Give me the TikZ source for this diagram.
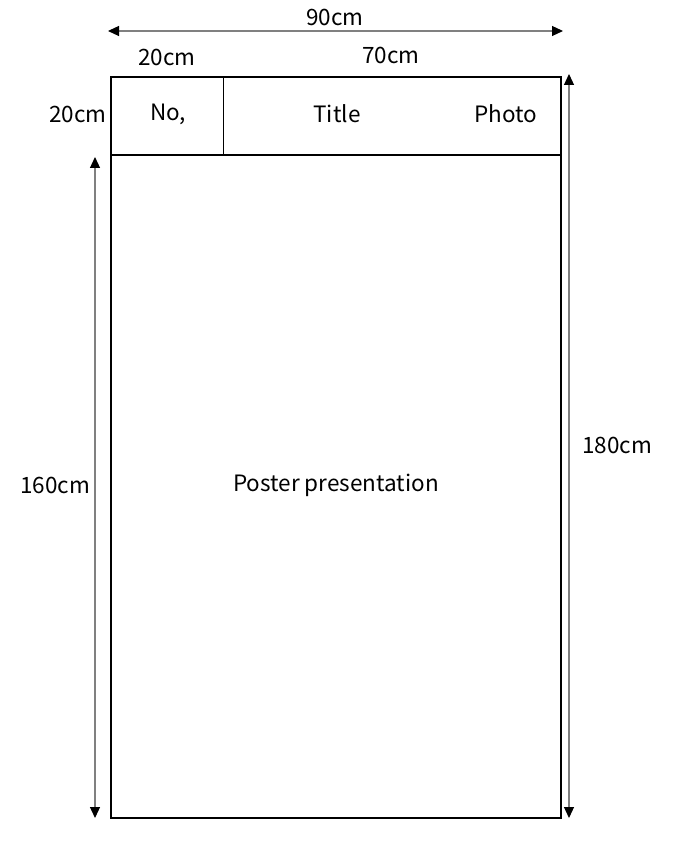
\documentclass[tikz,border=0pt]{standalone}
\usepackage{fontspec}
\setmainfont{Noto Sans CJK JP}
\usetikzlibrary{arrows.meta}
\begin{document}
\begin{tikzpicture}[x=1pt,y=-1pt,
  box/.style={draw=black,line width=1.6pt},
  thin/.style={draw=black,line width=0.8pt},
  dim/.style={draw=black!50,line width=1.2pt,{Triangle[length=11pt,width=10pt,fill=black,color=black]}-{Triangle[length=11pt,width=10pt,fill=black,color=black]}},
  lbl/.style={font=\fontsize{22.5}{26}\selectfont,inner sep=0pt}]
\useasboundingbox (0,0) rectangle (674,858);
\coordinate (tl) at (111,77);
\coordinate (br) at (561,818);
\draw[box] (tl) rectangle (br);
\coordinate (hl) at (111,155);
\coordinate (hr) at (561,155);
\draw[box] (hl) -- (hr);
\coordinate (dt) at (223,77);
\coordinate (db) at (223,155);
\draw[thin] (dt) -- (db);
% dimension arrows
\coordinate (ta) at (108,31);
\coordinate (tb) at (563,31);
\draw[dim] (ta) -- (tb);
\coordinate (la) at (95,157);
\coordinate (lb) at (95,818);
\draw[dim] (la) -- (lb);
\coordinate (ra) at (569,74);
\coordinate (rb) at (569,818);
\draw[dim] (ra) -- (rb);
% labels
\node[lbl] (w90) at (335,17) {90cm};
\node[lbl] (w20) at (167,57) {20cm};
\node[lbl] (w70) at (391,55) {70cm};
\node[lbl] (h20) at (78,114) {20cm};
\node[lbl] (no) at (168,114) {No,};
\node[lbl] (title) at (337,114) {Title};
\node[lbl] (photo) at (506,114) {Photo};
\node[lbl] (h160) at (55,485) {160cm};
\node[lbl] (poster) at (336,485) {Poster presentation};
\node[lbl] (h180) at (617,445) {180cm};
\end{tikzpicture}
\end{document}
